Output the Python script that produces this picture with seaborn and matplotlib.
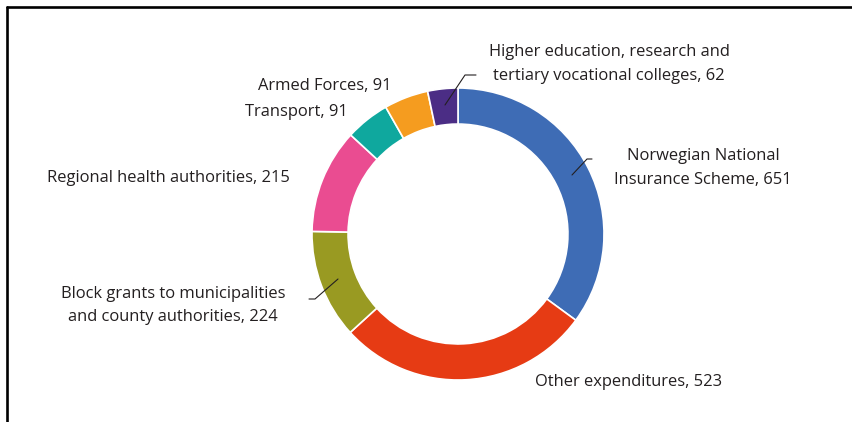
import matplotlib
matplotlib.use("Agg")
import matplotlib.pyplot as plt
import seaborn as sns
from matplotlib.lines import Line2D

categories = [
    "Norwegian National\nInsurance Scheme",
    "Other expenditures",
    "Block grants to municipalities\nand county authorities",
    "Regional health authorities",
    "Transport",
    "Armed Forces",
    "Higher education, research and\ntertiary vocational colleges",
]
values = [651, 523, 224, 215, 91, 91, 62]
colors = ["#3E6CB5", "#E63B14", "#999A22", "#EA4C91", "#0FA89E", "#F59C1F", "#4B2D85"]

sns.set_theme(style="white")
plt.rcParams["font.family"] = ["Open Sans", "DejaVu Sans"]

W, H = 853, 422
fig = plt.figure(figsize=(W / 100, H / 100), dpi=100)
ax = fig.add_axes([0, 0, 1, 1])

cx, cy, R = 458, H - 234, 146
ax.pie(values, colors=colors, startangle=90, counterclock=False,
       center=(cx, cy), radius=R, frame=True,
       wedgeprops=dict(width=R * 0.247, edgecolor="white", linewidth=1.2))
ax.set_xlim(0, W)
ax.set_ylim(0, H)
ax.set_aspect("equal")
ax.axis("off")

txt = "#231F20"
fs = 11.9

def label(i, x, y, ha):
    ax.text(x, H - y, f"{categories[i]}, {values[i]}", ha=ha, va="center",
            fontsize=fs, color=txt, linespacing=1.6)

label(0, 703, 168, "center")
label(1, 535, 382, "left")
label(2, 173, 305.5, "center")
label(3, 290, 178, "right")
label(4, 348, 112, "right")
label(5, 392, 86, "right")
label(6, 609, 64, "center")

def leader(pts):
    xs = [p[0] for p in pts]
    ys = [H - p[1] for p in pts]
    ax.plot(xs, ys, color="#231F20", lw=0.8)

leader([(572, 175), (587, 159), (592, 159)])
leader([(338, 279), (315, 299), (309, 299)])
leader([(445, 105), (465, 75), (476, 75)])

# frame lines (left and top)
fig.add_artist(Line2D([7 / W, 7 / W], [0, 1 - 7 / H], transform=fig.transFigure, color="black", lw=1.9))
fig.add_artist(Line2D([7 / W, 1], [1 - 7 / H, 1 - 7 / H], transform=fig.transFigure, color="black", lw=1.9))

fig.savefig("out.png", dpi=100)
